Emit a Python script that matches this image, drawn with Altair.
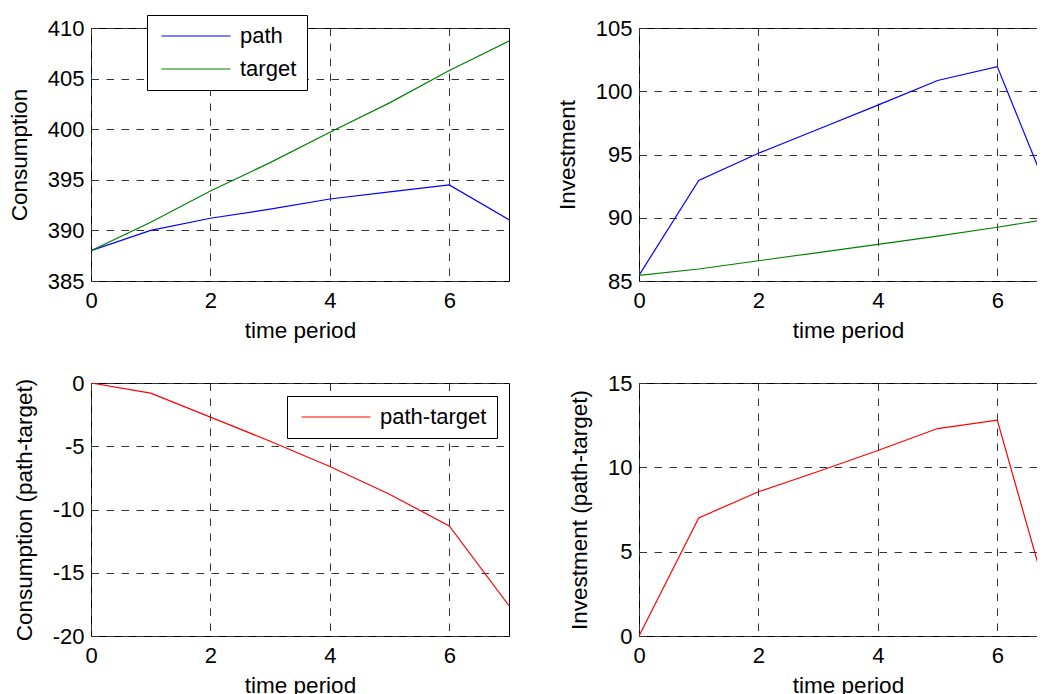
import altair as alt
import pandas as pd

# ---- data ----
t = [0, 1, 2, 3, 4, 5, 6, 7]
cons_path = [388.0, 390.0, 391.2, 392.1, 393.1, 393.8, 394.5, 391.05]
cons_target = [388.0, 390.8, 393.9, 396.7, 399.7, 402.6, 405.8, 408.7]
cons_diff = [0.0, -0.8, -2.7, -4.6, -6.6, -8.8, -11.3, -17.6]
inv_path = [85.45, 92.95, 95.1, 97.0, 98.9, 100.85, 101.95, 90.3]
inv_target = [85.45, 85.95, 86.6, 87.25, 87.9, 88.55, 89.25, 90.0]
inv_diff = [0.0, 7.0, 8.55, 9.75, 11.0, 12.3, 12.8, 0.3]

x_ticks = [0, 2, 4, 6]
cons_ticks = [385, 390, 395, 400, 405, 410]
inv_ticks = [85, 90, 95, 100, 105]
cdiff_ticks = [-20, -15, -10, -5, 0]
idiff_ticks = [0, 5, 10, 15]

FONT = "Liberation Sans"
FS = 22
W = 418
H = 253

def long_df(pairs):
    rows = []
    for name, vals in pairs:
        for ti, v in zip(t, vals):
            rows.append({"t": ti, "value": v, "series": name})
    return pd.DataFrame(rows)

def xenc():
    return alt.X("t:Q", scale=alt.Scale(domain=[0, 7], nice=False, zero=False),
                 axis=alt.Axis(values=x_ticks, title="time period",
                               labelExpr="'' + datum.value"))

def yenc(dom, ticks, title):
    return alt.Y("value:Q", scale=alt.Scale(domain=dom, nice=False, zero=False),
                 axis=alt.Axis(values=ticks, title=title,
                               labelExpr="'' + datum.value"))

def legend(lx, ly):
    return alt.Legend(orient="none", legendX=lx, legendY=ly, title=None,
                      symbolType="M-6.9,0H6.9", symbolSize=100, symbolStrokeWidth=1.2,
                      symbolOffset=28, labelOffset=33, rowPadding=11,
                      labelFont=FONT, labelFontSize=FS, labelColor="black",
                      strokeColor="black", fillColor="white", padding=10,
                      labelLimit=300)

tl = alt.Chart(long_df([("path", cons_path), ("target", cons_target)])).mark_line(
    strokeWidth=1.2, clip=True).encode(
    x=xenc(), y=yenc([385, 410], cons_ticks, "Consumption"),
    color=alt.Color("series:N", sort=["path", "target"],
                    scale=alt.Scale(domain=["path", "target"], range=["#0000ff", "#008000"]),
                    legend=legend(56, -13)),
).properties(width=W, height=H)

tr = alt.Chart(long_df([("path", inv_path), ("target", inv_target)])).mark_line(
    strokeWidth=1.2, clip=True).encode(
    x=xenc(), y=yenc([85, 105], inv_ticks, "Investment"),
    color=alt.Color("series:N",
                    scale=alt.Scale(domain=["path", "target"], range=["#0000ff", "#008000"]),
                    legend=None),
).properties(width=W, height=H)

bl = alt.Chart(long_df([("path-target", cons_diff)])).mark_line(
    strokeWidth=1.2, clip=True).encode(
    x=xenc(), y=yenc([-20, 0], cdiff_ticks, "Consumption (path-target)"),
    color=alt.Color("series:N",
                    scale=alt.Scale(domain=["path-target"], range=["#ff0000"]),
                    legend=legend(196, 13)),
).properties(width=W, height=H)

br = alt.Chart(long_df([("path-target", inv_diff)])).mark_line(
    strokeWidth=1.2, clip=True, color="#ff0000").encode(
    x=xenc(), y=yenc([0, 15], idiff_ticks, "Investment (path-target)"),
).properties(width=W, height=H)

chart = alt.concat(tl, tr, bl, br, columns=2, bounds="flush",
                   spacing={"row": 102, "column": 130}).resolve_scale(
    color="independent", x="independent", y="independent").resolve_legend(
    color="independent").properties(
    autosize=alt.AutoSizeParams(type="none"),
    padding={"left": 83, "top": 20, "right": 946, "bottom": 666},
    background="white",
).configure_view(stroke="black", strokeWidth=1).configure_axis(
    labelFont=FONT, labelFontSize=FS, labelColor="black",
    titleFont=FONT, titleFontSize=22.5, titleFontWeight="normal", titleColor="black",
    grid=True, gridColor="#333333", gridDash=[7.5, 7.5], gridWidth=1, gridOpacity=1,
    domain=False, ticks=False, labelPadding=7, labelFlush=False,
).configure_axisY(titlePadding=16).configure_axisX(titlePadding=8, labelPadding=9.5)

chart.save("out.html", embed_options={"renderer": "svg", "actions": False})
